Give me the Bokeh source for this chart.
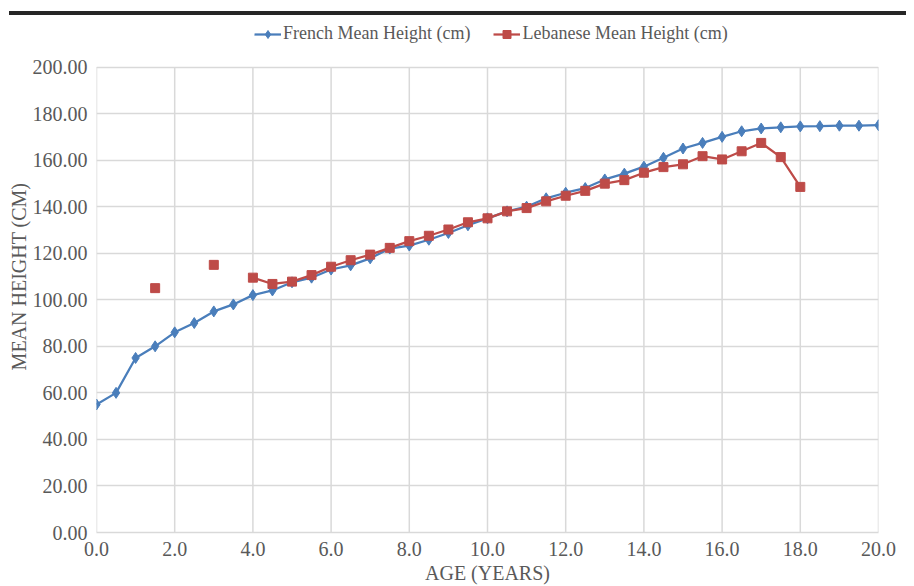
from bokeh.plotting import figure
from bokeh.models import (Range1d, FixedTicker, NumeralTickFormatter, Legend, LegendItem,
                          ColumnDataSource, Div, LinearAxis)
from bokeh.layouts import column
from bokeh.embed import file_html
from bokeh.resources import INLINE

ages = [0, 0.5, 1, 1.5, 2, 2.5, 3, 3.5, 4, 4.5, 5, 5.5, 6, 6.5, 7, 7.5, 8, 8.5, 9, 9.5,
        10, 10.5, 11, 11.5, 12, 12.5, 13, 13.5, 14, 14.5, 15, 15.5, 16, 16.5, 17, 17.5,
        18, 18.5, 19, 19.5, 20]
french = [55, 60, 75, 80, 86, 90, 95, 98, 102, 104, 107.5, 109.5, 113, 114.8, 117.8, 122,
          123.3, 125.8, 128.7, 132, 135, 138, 140, 143.6, 146, 148, 151.7, 154.2, 157.2,
          161, 165, 167.4, 170, 172.4, 173.6, 174.1, 174.5, 174.6, 174.8, 174.8, 175]
lebanese = [None, None, None, 105, None, None, 115, None, 109.5, 106.8, 107.8, 110.6, 114.2,
            117, 119.4, 122.3, 125.2, 127.5, 130.2, 133.3, 135, 138, 139.4, 142.3, 144.7,
            146.8, 149.9, 151.4, 154.6, 157, 158.2, 161.7, 160.3, 163.8, 167.4, 161.3, 148.5,
            None, None, None, None]
y_ticks = [0, 20, 40, 60, 80, 100, 120, 140, 160, 180, 200]
x_ticks = [0, 2, 4, 6, 8, 10, 12, 14, 16, 18, 20]

BLUE = "#4a7ebb"
RED = "#be4b48"
GRID = "#d9d9d9"
TXT = "#595959"
FONT = "Liberation Serif"

leb = [float("nan") if v is None else v for v in lebanese]
src_f = ColumnDataSource(dict(x=ages, y=french))
src_l = ColumnDataSource(dict(x=ages, y=leb))
src_g = ColumnDataSource(dict(x=x_ticks, y0=[y_ticks[0]] * len(x_ticks), y1=[y_ticks[-1]] * len(x_ticks)))

p = figure(width=914, height=566, output_backend="svg", toolbar_location=None,
           x_range=Range1d(0, 20), y_range=Range1d(0, 220),
           min_border_left=96, min_border_right=36, min_border_top=0, min_border_bottom=49)
p.outline_line_color = None
p.extra_y_ranges = {"lab": Range1d(0, 220)}

# vertical grid lines, limited to the 0-200 value span
p.segment(x0="x", y0="y0", x1="x", y1="y1", source=src_g, line_color=GRID, line_width=1.5,
          level="underlay")
p.xgrid.visible = False

lf = p.line("x", "y", source=src_f, line_color=BLUE, line_width=2.25)
mf = p.scatter("x", "y", source=src_f, marker="diamond", size=11, fill_color=BLUE, line_color=BLUE)
ll = p.line("x", "y", source=src_l, line_color=RED, line_width=2.25)
ml = p.scatter("x", "y", source=src_l, marker="square", size=9, fill_color=RED, line_color=RED)

legend = Legend(items=[LegendItem(label="French Mean Height (cm)", renderers=[lf, mf]),
                       LegendItem(label="Lebanese Mean Height (cm)", renderers=[ll, ml])],
                orientation="horizontal", location=(158, 488), margin=0, padding=4,
                spacing=23, glyph_width=27, glyph_height=20, label_height=20,
                label_text_font=FONT, label_text_font_size="18px",
                label_text_color=TXT, label_standoff=2, border_line_color=None,
                background_fill_alpha=0)
p.add_layout(legend)

p.xaxis.ticker = FixedTicker(ticks=x_ticks)
p.yaxis.ticker = FixedTicker(ticks=y_ticks)
p.xaxis.formatter = NumeralTickFormatter(format="0.0")
p.yaxis.formatter = NumeralTickFormatter(format="0.00")

# separate axis that only carries the y title
lab_axis = LinearAxis(y_range_name="lab", ticker=FixedTicker(ticks=[]),
                      axis_label="MEAN HEIGHT (CM)")
p.add_layout(lab_axis, "left")

for ax in (p.xaxis[0], p.yaxis[0], lab_axis):
    ax.major_tick_line_color = None
    ax.minor_tick_line_color = None
    ax.major_label_text_font = FONT
    ax.major_label_text_font_size = "20px"
    ax.major_label_text_color = TXT
    ax.axis_label_text_font = FONT
    ax.axis_label_text_font_size = "20px"
    ax.axis_label_text_font_style = "normal"
    ax.axis_label_text_color = TXT

p.xaxis.axis_line_color = GRID
p.xaxis.axis_line_width = 1.5
p.yaxis.axis_line_color = None
lab_axis.axis_line_color = None
lab_axis.major_label_standoff = 0
lab_axis.axis_label_standoff = 0
p.xaxis.axis_label = "AGE (YEARS)"
p.xaxis.major_label_standoff = 3
p.yaxis[0].major_label_standoff = 3
p.xaxis.axis_label_standoff = 3

p.ygrid.ticker = FixedTicker(ticks=y_ticks)
p.ygrid.grid_line_color = GRID
p.ygrid.grid_line_width = 1.5

bar = Div(text="", width=897, height=4, margin=(11, 0, 5, 9),
          styles={"background-color": "#262626"})

layout = column(bar, p, spacing=0)
open("out.html", "w").write(file_html(layout, INLINE))
